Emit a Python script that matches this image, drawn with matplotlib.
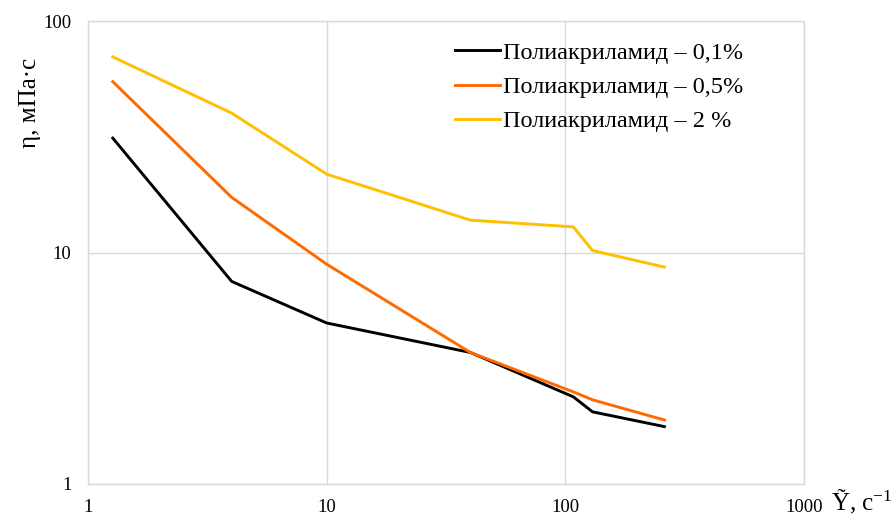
import matplotlib
matplotlib.use('Agg')
import matplotlib.pyplot as plt

# shear rate, 1/s
shear = [1.27, 4.0, 10.0, 40.0, 108.0, 130.0, 260.0]

# viscosity, mPa*s
visc_01 = [31.2, 7.5, 4.96, 3.7, 2.38, 2.05, 1.77]
visc_05 = [54.7, 17.3, 8.9, 3.7, 2.5, 2.31, 1.89]
visc_2 = [70.0, 40.0, 21.8, 13.8, 12.9, 10.2, 8.65]

labels = ['Полиакриламид – 0,1%', 'Полиакриламид – 0,5%', 'Полиакриламид – 2 %']
colors = ['#000000', '#FF6A00', '#FFC000']

plt.rcParams['font.family'] = ['Liberation Serif', 'DejaVu Serif']
plt.rcParams['mathtext.default'] = 'regular'

fig = plt.figure(figsize=(8.96, 5.15), dpi=100)
ax = fig.add_axes([88 / 896, 1 - 484 / 515, (804 - 88) / 896, (484 - 21) / 515])

for ys, lab, col in zip([visc_01, visc_05, visc_2], labels, colors):
    ax.plot(shear, ys, color=col, linewidth=2.1, label=lab)

ax.set_xscale('log')
ax.set_yscale('log')
ax.set_xlim(1, 1000)
ax.set_ylim(1, 100)
ax.set_xticks([1, 10, 100, 1000])
ax.set_xticklabels(['1', '10', '100', '1000'])
ax.set_yticks([1, 10, 100])
ax.set_yticklabels(['1', '10', '100'])
ax.minorticks_off()
ax.tick_params(axis='both', length=0, labelsize=13.5)
ax.tick_params(axis='x', pad=11)
ax.tick_params(axis='y', pad=12)

ax.grid(True, color='#d9d9d9', linewidth=1.0)
ax.set_axisbelow(True)
for sp in ax.spines.values():
    sp.set_color('#d9d9d9')
    sp.set_linewidth(1.0)

ax.legend(loc='upper left', bbox_to_anchor=(0.513, 0.955), frameon=False,
          fontsize=17.5, handlelength=1.85, handletextpad=0.12, labelspacing=0.5,
          borderpad=0, borderaxespad=0)

fig.text(30 / 896, 1 - 103 / 515, 'η, мПа·с', rotation=90, fontsize=18,
         ha='center', va='center')
fig.text(831 / 896, 1 - 502 / 515, 'Ỹ, с$^{-1}$', fontsize=18, ha='left', va='center')

fig.savefig('out.png', dpi=100, facecolor='white')
